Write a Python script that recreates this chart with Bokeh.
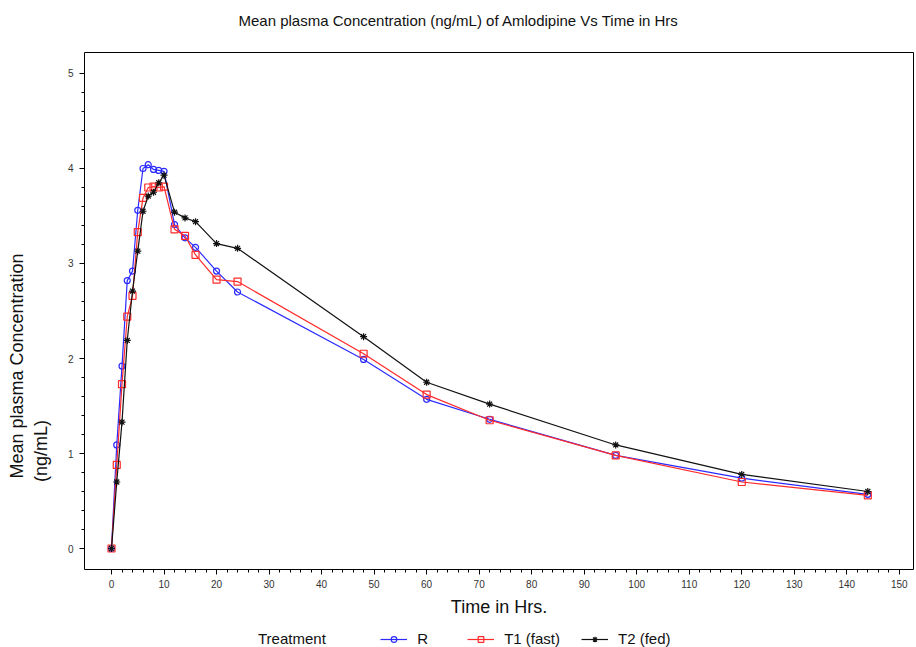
from bokeh.plotting import figure
from bokeh.models import Legend, LegendItem, FixedTicker, Label
from bokeh.layouts import column
from bokeh.embed import file_html
from bokeh.resources import INLINE

# ---- data ----
time_h = [0, 1, 2, 3, 4, 5, 6, 7, 8, 9, 10, 12, 14, 16, 20, 24, 48, 60, 72, 96, 120, 144]
conc_R = [0, 1.09, 1.92, 2.82, 2.92, 3.56, 4.00, 4.04, 3.99, 3.98, 3.97, 3.41, 3.27, 3.17, 2.92, 2.70,
          1.99, 1.57, 1.36, 0.98, 0.74, 0.57]
conc_T1 = [0, 0.88, 1.73, 2.44, 2.66, 3.33, 3.69, 3.80, 3.81, 3.80, 3.81, 3.36, 3.29, 3.09, 2.83, 2.81,
           2.05, 1.62, 1.35, 0.98, 0.70, 0.56]
conc_T2 = [0, 0.70, 1.33, 2.19, 2.71, 3.13, 3.55, 3.71, 3.75, 3.85, 3.93, 3.54, 3.48, 3.44, 3.21, 3.16,
           2.23, 1.75, 1.52, 1.09, 0.78, 0.60]
x_ticks = list(range(0, 151, 10))
y_ticks = [0, 1, 2, 3, 4, 5]
title_text = "Mean plasma Concentration (ng/mL) of Amlodipine Vs Time in Hrs"

FONT = "Liberation Sans"
NB = "\u00a0"

p = figure(width=916, height=594, x_range=(-5.14, 152.7), y_range=(-0.221, 5.221),
           output_backend="svg", toolbar_location=None,
           min_border_left=84, min_border_right=3, min_border_top=22, min_border_bottom=55)
p.grid.visible = False
p.outline_line_color = "black"
p.outline_line_width = 1
p.background_fill_color = "white"
p.border_fill_color = "white"
p.title.text = ""
p.title.standoff = 0

for ax in (p.xaxis, p.yaxis):
    ax.axis_line_color = None
    ax.major_tick_line_color = "black"
    ax.minor_tick_line_color = "black"
    ax.major_tick_out = 5
    ax.major_tick_in = 0
    ax.minor_tick_out = 3
    ax.minor_tick_in = 0
    ax.major_label_text_font = FONT
    ax.major_label_text_font_size = "10px"
    ax.major_label_text_color = "#333333"
    ax.axis_label_text_font = FONT
    ax.axis_label_text_font_size = "18px"
    ax.axis_label_text_font_style = "normal"
    ax.axis_label_text_color = "#111111"

p.xaxis.ticker = FixedTicker(ticks=x_ticks, minor_ticks=list(range(0, 151, 2)))
p.yaxis.ticker = FixedTicker(ticks=y_ticks, minor_ticks=[i / 5 for i in range(0, 26)])
p.xaxis.axis_label = "Time in Hrs."
p.xaxis.axis_label_standoff = 6
p.xaxis.major_label_standoff = 5
p.yaxis.major_label_standoff = 6
# two-line label; non-breaking padding keeps both lines bottom-aligned like the reference
p.yaxis.axis_label = "Mean plasma Concentration" + NB * 22 + "\n(ng/mL)" + NB * 56
p.yaxis.axis_label_standoff = 14

series = [
    ("R", conc_R, "#2b2bff", "circle", 6),
    ("T1 (fast)", conc_T1, "#ff2a2a", "square", 7),
    ("T2 (fed)", conc_T2, "#111111", "asterisk", 7),
]
for name, vals, col, mk, sz in series:
    p.line(time_h, vals, line_color=col, line_width=1.2)
    p.scatter(time_h, vals, marker=mk, size=sz, line_color=col, fill_color=None, line_width=1.2)

# title strip above the chart
pt = figure(width=916, height=30, x_range=p.x_range, y_range=(0, 1), output_backend="svg",
            toolbar_location=None, x_axis_type=None, y_axis_type=None, min_border=0)
pt.grid.visible = False
pt.outline_line_color = None
pt.title.text = ""
pt.title.standoff = 0
pt.add_layout(Label(x=24.18, y=0.333, text=title_text, text_align="left", text_baseline="middle",
                    text_font=FONT, text_font_size="15px", text_color="#111111"))

# legend strip below the chart (proxy renderers lie outside its visible range)
pl = figure(width=916, height=23, x_range=(-20, -10), y_range=(0, 1), output_backend="svg",
            toolbar_location=None, x_axis_type=None, y_axis_type=None, min_border=0)
pl.grid.visible = False
pl.outline_line_color = None
pl.title.text = ""
pl.title.standoff = 0
dummy = pl.line(time_h, conc_R, line_alpha=0)
items = [LegendItem(label="Treatment" + NB * 8, renderers=[dummy])]
for name, vals, col, mk, sz in series:
    ln = pl.line(time_h, vals, line_color=col, line_width=1.2)
    sc = pl.scatter(time_h, vals, marker=mk, size=sz, line_color=col, fill_color=None, line_width=1.2)
    items.append(LegendItem(label=name, renderers=[ln, sc]))

legend = Legend(items=items, orientation="horizontal", location=(137, 0),
                border_line_color=None, background_fill_alpha=0,
                label_text_font=FONT, label_text_font_size="15px", label_text_color="#111111",
                glyph_width=27, glyph_height=14, label_standoff=10, label_width=29, spacing=21,
                padding=0, margin=0)
pl.add_layout(legend, "center")

layout = column(pt, p, pl, spacing=0)
open("out.html", "w").write(file_html(layout, INLINE))
